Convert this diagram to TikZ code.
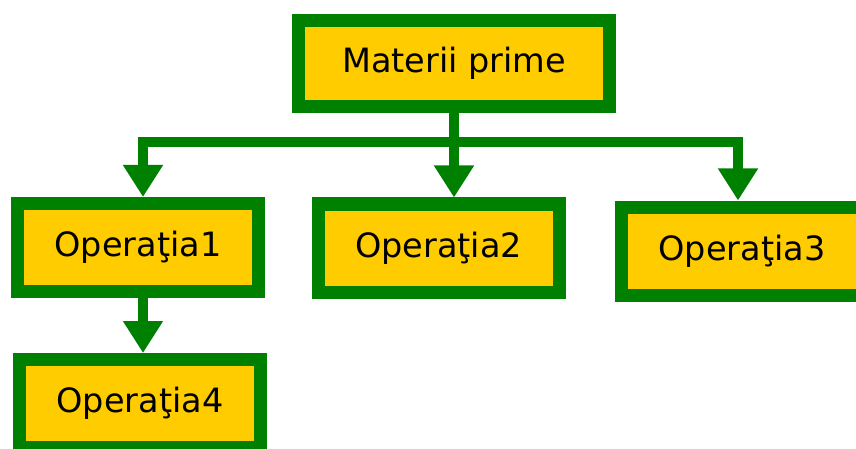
\documentclass[tikz,border=0pt]{standalone}
\usepackage{fontspec}
\setmainfont{DejaVu Sans}
\usetikzlibrary{arrows.meta,positioning}
\definecolor{boxgreen}{RGB}{0,128,0}
\definecolor{boxyellow}{RGB}{255,204,0}

\begin{document}
\begin{tikzpicture}[x=1pt,y=-1pt,
		opbox/.style={draw=boxgreen,fill=boxyellow,line width=13pt,minimum width=241pt,minimum height=88pt,inner sep=0pt,font=\fontsize{33.5}{40}\selectfont},
		link/.style={draw=boxgreen,line width=10pt,-{Triangle[length=32pt,width=38pt]}}]
		\useasboundingbox (0,0) rectangle (856,449);

		\node[opbox,minimum width=311pt,minimum height=86pt] (mat) at (454,63.5) {Materii prime};
		\node[opbox] (op1) at (138,247.5) {Operaţia1};
		\node[opbox] (op2) at (438.5,248) {Operaţia2};
		\node[opbox] (op3) at (742,251) {Operaţia3};
		\node[opbox] (op4) at (140,403.5) {Operaţia4};

		\draw[link] (mat.south) -- ++(0,29) -| ([xshift=5pt]op1.north);
		\draw[link] (mat.south) -- (op2.north -| mat.south);
		\draw[link] (mat.south) -- ++(0,29) -| ([xshift=-4pt]op3.north);
		\draw[link] ([xshift=5pt]op1.south) -- ([xshift=5pt]op1.south |- op4.north);
	\end{tikzpicture}
\end{document}
